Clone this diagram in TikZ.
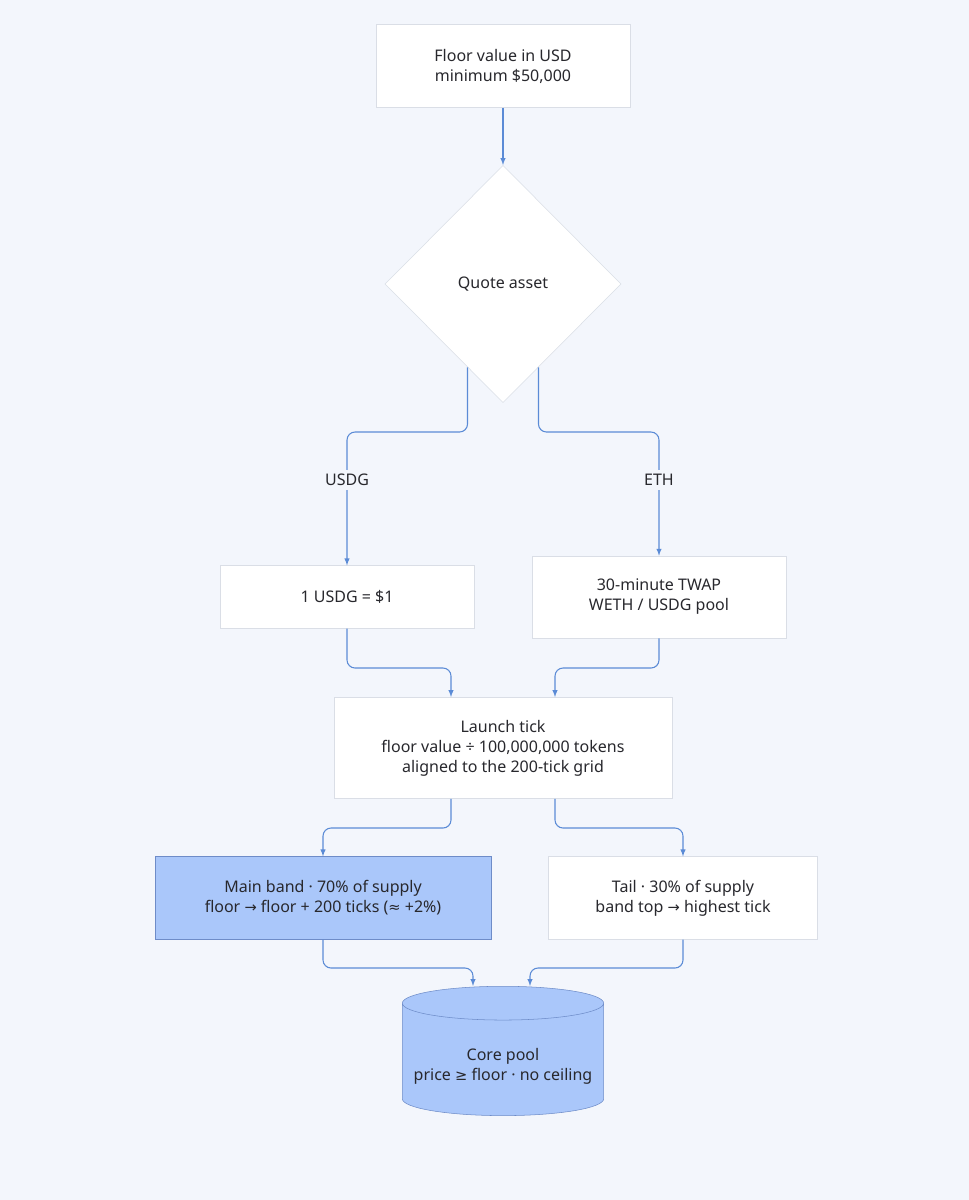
\documentclass[tikz,border=0pt]{standalone}
\usepackage{fontspec}
\setmainfont{Noto Sans}
\newfontfamily\symfont{DejaVu Sans}
\newcommand{\sym}[1]{{\symfont\fontsize{11}{15}\selectfont #1}}
\usetikzlibrary{shapes.geometric, calc}
\definecolor{bgblue}{RGB}{243,246,252}
\definecolor{linkblue}{RGB}{91,139,214}
\definecolor{bandblue}{RGB}{170,199,250}
\definecolor{bandline}{RGB}{110,140,200}
\definecolor{boxline}{RGB}{218,222,230}
\definecolor{txt}{RGB}{40,40,45}
\tikzset{
	box/.style={
		draw=boxline,
		fill=white,
		align=center,
		text=txt,
		font=\fontsize{12}{15}\selectfont
	}
}
\begin{document}
\begin{tikzpicture}[x=0.75pt,y=-0.75pt]
		\tikzset{edge/.style={-latex, linkblue, thick, rounded corners=6pt}}
		\tikzset{tag/.style={text=txt, font=\fontsize{12}{15}\selectfont}}
		
		\fill[bgblue] (0,0) rectangle (969,1200);
		\useasboundingbox (0,0) rectangle (969,1200);
		
		\node(floor) at (503,66) [box,minimum width=190.5pt,minimum height=62pt] {Floor value in USD\\minimum \$50,000};
		\node(quote) at (503,284) [box,diamond,minimum width=177pt,minimum height=178pt,inner sep=0pt] {Quote asset};
		
		\node(usdg) at (347,597) [box,minimum width=190.5pt,minimum height=47pt] {1 USDG = \$1};
		\node(twap) at (659,597) [box,minimum width=190.5pt,minimum height=61.5pt] {30-minute TWAP\\WETH / USDG pool};
		
		\node(launch) at (503,748) [box,minimum width=253.5pt,minimum height=76pt] {Launch tick\\floor value ÷ 100,000,000 tokens\\aligned to the 200-tick grid};
		
		\node(mainband) at (323,898) [box,fill=bandblue,draw=bandline,minimum width=252pt,minimum height=62pt] {Main band · 70\% of supply\\floor \sym{→} floor + 200 ticks (\sym{≈} +2\%)};
		\node(tail) at (683,898) [box,minimum width=202pt,minimum height=62pt] {Tail · 30\% of supply\\band top \sym{→} highest tick};
		
		\node(core) at (503,1062) [box,cylinder,shape border rotate=90,aspect=0.18,fill=bandblue,draw=bandline,minimum width=151pt,minimum height=97pt] {\\Core pool\\price \sym{≥} floor · no ceiling};
		
		\coordinate(qleft) at ($(quote.south)!0.3!(quote.west)$);
		\coordinate(qright) at ($(quote.south)!0.3!(quote.east)$);
		
		\draw[edge] (floor) -- (quote);
		\draw[edge] (qleft) |- (400,432) -| (usdg.north);
		\draw[edge] (qright) |- (600,432) -| (twap.north);
		\node(usdgtag) at (347,480) [tag,fill=bgblue] {USDG};
		\node(ethtag) at (659,480) [tag,fill=bgblue] {ETH};
		
		\draw[edge] (usdg.south) |- (400,668) -| (launch.north -| 451,0);
		\draw[edge] (twap.south) |- (600,668) -| (launch.north -| 555,0);
		
		\draw[edge] (launch.south -| 451,0) |- (400,828) -| (mainband.north);
		\draw[edge] (launch.south -| 555,0) |- (600,828) -| (tail.north);
		
		\draw[edge] (mainband.south) |- (400,968) -| (core.north -| 473,0);
		\draw[edge] (tail.south) |- (600,968) -| (core.north -| 530,0);
\end{tikzpicture}
\end{document}
